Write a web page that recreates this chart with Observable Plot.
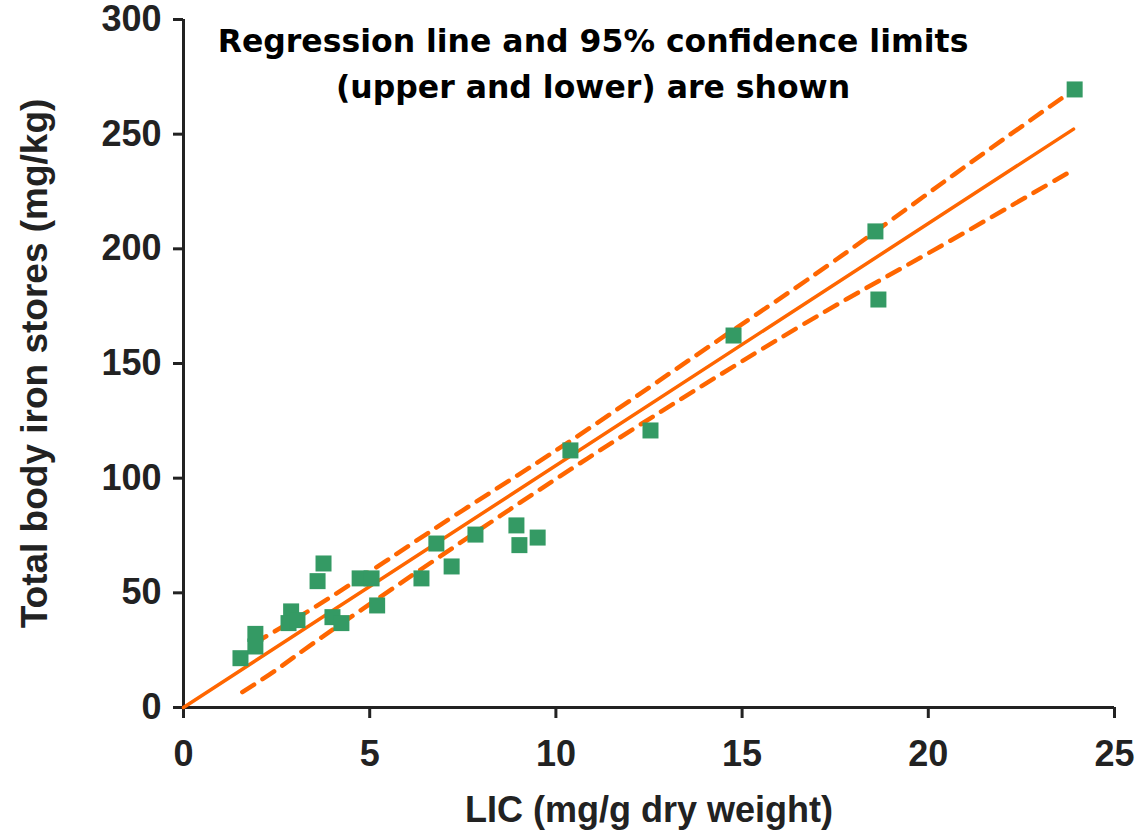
<!DOCTYPE html>
<html>
<head>
<meta charset="utf-8">
<script src="https://cdn.jsdelivr.net/npm/d3@7"></script>
<script src="https://cdn.jsdelivr.net/npm/@observablehq/plot@0.6"></script>
<style>
  html, body { margin: 0; padding: 0; background: #fff; }
  #chart { width: 1142px; height: 837px; }
</style>
</head>
<body>
<div id="chart"></div>
<script>
// Data points: LIC (mg/g dry weight) vs total body iron stores (mg/kg)
const lic = [1.53, 1.93, 1.93, 2.89, 2.82, 3.06, 3.60, 3.76, 4.00, 4.24, 4.73, 5.05, 5.20,
             6.39, 6.79, 7.20, 7.84, 8.94, 9.02, 9.51, 10.39, 12.54, 14.77, 18.58, 18.66, 23.93];
const tbi = [21.5, 32.1, 26.6, 41.9, 36.8, 38.1, 55.1, 62.8, 39.4, 36.8, 56.3, 56.3, 44.5,
             56.3, 71.5, 61.5, 75.4, 79.4, 70.8, 74.1, 112.1, 120.8, 162.2, 207.6, 177.9, 269.5];

// Regression line
const regX = [0, 23.9];
const regY = [0, 252.2];

// 95% confidence limits
const upperX = [1.9, 3.5, 5.4, 7.5, 9.9, 12.5, 14.8, 17.5, 20.7, 23.7];
const upperY = [28, 43.5, 63.5, 86, 111, 139.5, 165, 195, 232.5, 267];
const lowerX = [1.58, 2.5, 3.7, 6.4, 10.6, 14.9, 17.8, 20.1, 22.3, 23.9];
const lowerY = [6.7, 16.5, 30.5, 60.5, 106, 150, 178, 199, 219.5, 234.5];

// Ticks and texts
const xTicks = [0, 5, 10, 15, 20, 25];
const yTicks = [0, 50, 100, 150, 200, 250, 300];
const xLabel = "LIC (mg/g dry weight)";
const yLabel = "Total body iron stores (mg/kg)";
const titleText = "Regression line and 95% confidence limits\n(upper and lower) are shown";

const points = lic.map((x, i) => ({x, y: tbi[i]}));
const reg = regX.map((x, i) => ({x, y: regY[i]}));
const upper = upperX.map((x, i) => ({x, y: upperY[i]}));
const lower = lowerX.map((x, i) => ({x, y: lowerY[i]}));

const orange = "#ff6600";
const green = "#349a64";
const ink = "#222222";
const font = "'Liberation Sans', Arial, Helvetica, sans-serif";
const wideFont = "'DejaVu Sans', 'Liberation Sans', sans-serif";

const chart = Plot.plot({
  width: 1142,
  height: 837,
  marginLeft: 183,
  marginRight: 28,
  marginTop: 19,
  marginBottom: 130,
  style: {fontFamily: font, fontWeight: "bold", background: "#fff", color: ink},
  x: {domain: [0, 25], axis: null},
  y: {domain: [0, 300], axis: null},
  marks: [
    Plot.axisX(xTicks, {tickSize: 11, tickPadding: 22, fontSize: 36, strokeWidth: 3, stroke: ink, fill: ink, label: null}),
    Plot.axisY(yTicks, {tickSize: 10, tickPadding: 12, fontSize: 36, strokeWidth: 3, stroke: ink, fill: ink, label: null}),
    Plot.ruleX([0], {y1: 0, y2: 300, stroke: ink, strokeWidth: 3}),
    Plot.ruleY([0], {x1: 0, x2: 25, stroke: ink, strokeWidth: 3}),
    Plot.line(upper, {x: "x", y: "y", stroke: orange, strokeWidth: 4.5, strokeDasharray: "14,10", curve: "natural"}),
    Plot.line(lower, {x: "x", y: "y", stroke: orange, strokeWidth: 4.5, strokeDasharray: "14,10", curve: "natural"}),
    Plot.line(reg, {x: "x", y: "y", stroke: orange, strokeWidth: 3.5}),
    Plot.dot(points, {x: "x", y: "y", symbol: "square", r: 9.03, fill: green, stroke: "none"}),
    Plot.text([titleText], {text: d => d, frameAnchor: "top", lineAnchor: "top", dx: -56, dy: 0, fontSize: 31.5, fontFamily: wideFont, fontWeight: "bold", fill: "#000", lineHeight: 1.45}),
    Plot.text([xLabel], {text: d => d, frameAnchor: "bottom", dy: 114, fontSize: 36, fontWeight: "bold", fill: ink}),
    Plot.text([yLabel], {text: d => d, frameAnchor: "left", textAnchor: "middle", rotate: -90, dx: -148, fontSize: 37, fontWeight: "bold", fill: ink})
  ]
});
document.getElementById("chart").appendChild(chart);
</script>
</body>
</html>
